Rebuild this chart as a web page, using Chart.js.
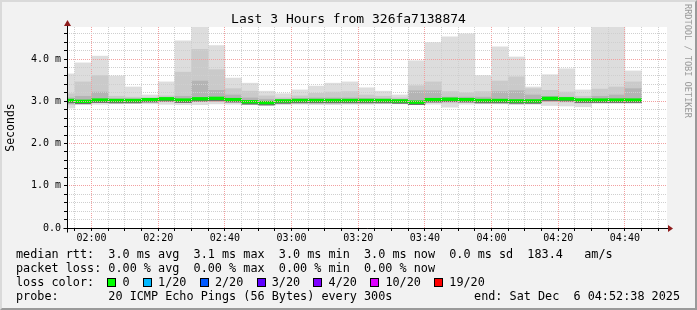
<!DOCTYPE html>
<html>
<head>
<meta charset="utf-8">
<script src="https://cdn.jsdelivr.net/npm/chart.js@4/dist/chart.umd.min.js"></script>
<style>
  html, body { margin: 0; padding: 0; background: #f2f2f2; }
  #graph { position: relative; width: 697px; height: 310px; background: #f2f2f2; overflow: hidden;
    font-family: "DejaVu Sans Mono", monospace; color: #000; }
  #graph canvas { position: absolute; left: 0; top: 0; }
  .frame { position: absolute; left: 0; top: 0; width: 697px; height: 310px; box-sizing: border-box;
    border-top: 2px solid #dadada; border-left: 2px solid #dadada;
    border-bottom: 2px solid #9a9a9a; border-right: 2px solid #9a9a9a; pointer-events: none; }
  .title { position: absolute; top: 11px; left: 0; width: 697px; text-align: center; font-size: 13px; line-height: 16px; }
  .mark { position: absolute; left: 683px; top: 4px; writing-mode: vertical-rl; font-size: 8.6px; line-height: 9px; color: #9a9a9a; }
  .row { position: absolute; left: 16px; font-size: 11.8px; line-height: 14px; white-space: pre; }
  .end { left: auto; right: 17px; }
  .sw { display: inline-block; width: 2ch; }
  .sw i { display: inline-block; width: 7px; height: 7px; border: 1px solid #000; vertical-align: -1px; margin-left: -1px; }
</style>
</head>
<body>
<div id="graph">
  <canvas id="smoke" width="697" height="310"></canvas>
  <div class="title">Last 3 Hours from 326fa7138874</div>
  <div class="mark">RRDTOOL / TOBI OETIKER</div>
  <div class="row" style="top:247px">median rtt:  3.0 ms avg  3.1 ms max  3.0 ms min  3.0 ms now  0.0 ms sd  183.4   am/s</div>
  <div class="row" style="top:261px">packet loss: 0.00 % avg  0.00 % max  0.00 % min  0.00 % now</div>
  <div class="row" id="lossRow" style="top:275px"></div>
  <div class="row" style="top:289px">probe:       20 ICMP Echo Pings (56 Bytes) every 300s</div>
  <div class="row end" style="top:289px">end: Sat Dec  6 04:52:38 2025</div>
  <div class="frame"></div>
</div>
<script>
// time window shown on the graph
const viewStart = '01:52:38'
const viewEnd = '04:52:38'

// 5 minute bins (start time of each bin)
const binStart = ['01:50', '01:55', '02:00', '02:05', '02:10', '02:15', '02:20', '02:25', '02:30', '02:35',
  '02:40', '02:45', '02:50', '02:55', '03:00', '03:05', '03:10', '03:15', '03:20', '03:25',
  '03:30', '03:35', '03:40', '03:45', '03:50', '03:55', '04:00', '04:05', '04:10', '04:15',
  '04:20', '04:25', '04:30', '04:35', '04:40']

// ping distribution per bin, in ms
const maxPing = [3.65, 3.91, 4.07, 3.60, 3.34, 3.15, 3.46, 4.43, 4.80, 4.32, 3.55, 3.43, 3.24, 3.18, 3.27, 3.36, 3.43, 3.46, 3.32, 3.24,
  3.15, 3.96, 4.39, 4.53, 4.60, 3.61, 4.29, 4.05, 3.34, 3.63, 3.77, 3.27, 4.80, 4.80, 3.72]
const p90 = [3.18, 3.46, 3.61, 3.12, 3.10, 3.08, 3.13, 3.69, 4.23, 3.75, 3.30, 3.24, 3.13, 3.08, 3.13, 3.19, 3.22, 3.23, 3.15, 3.12,
  3.08, 3.37, 3.46, 3.23, 3.20, 3.23, 3.48, 3.58, 3.30, 3.26, 3.22, 3.12, 3.29, 3.34, 3.46]
const p75 = [3.08, 3.12, 3.22, 3.06, 3.06, 3.07, 3.09, 3.12, 3.48, 3.26, 3.15, 3.08, 3.05, 3.05, 3.07, 3.08, 3.08, 3.08, 3.07, 3.06,
  3.05, 3.25, 3.25, 3.10, 3.10, 3.10, 3.23, 3.25, 3.15, 3.12, 3.10, 3.07, 3.12, 3.15, 3.30]
const median = [3.02, 3.00, 3.03, 3.02, 3.02, 3.04, 3.06, 3.03, 3.06, 3.07, 3.04, 2.99, 2.97, 3.01, 3.02, 3.02, 3.02, 3.02, 3.02, 3.02,
  3.01, 2.98, 3.04, 3.05, 3.04, 3.02, 3.02, 3.01, 3.01, 3.07, 3.06, 3.03, 3.03, 3.03, 3.03]
const p25 = [2.98, 2.98, 3.00, 2.99, 3.00, 3.01, 3.03, 3.00, 3.03, 3.04, 3.01, 2.97, 2.95, 2.99, 3.00, 3.00, 3.00, 3.00, 3.00, 3.00,
  2.99, 2.96, 3.01, 3.02, 3.01, 3.00, 3.00, 2.99, 2.99, 3.04, 3.03, 3.00, 3.01, 3.01, 3.01]
const p10 = [2.92, 2.96, 2.97, 2.97, 2.97, 2.98, 2.99, 2.97, 2.99, 3.00, 2.98, 2.95, 2.94, 2.96, 2.97, 2.97, 2.97, 2.97, 2.97, 2.97,
  2.96, 2.94, 2.98, 2.96, 2.98, 2.97, 2.97, 2.96, 2.96, 3.00, 2.98, 2.95, 2.98, 2.98, 2.98]
const minPing = [2.84, 2.93, 2.93, 2.94, 2.95, 2.94, 2.93, 2.92, 2.92, 2.94, 2.93, 2.92, 2.91, 2.92, 2.93, 2.92, 2.92, 2.93, 2.93, 2.94,
  2.94, 2.92, 2.93, 2.86, 2.93, 2.94, 2.94, 2.92, 2.93, 2.90, 2.89, 2.87, 2.95, 2.95, 2.95]

// y axis range (ms) and tick spacing
const yMax = 4.76
const yMinorStep = 0.2
const xMinorStep = 5
const xMajorStep = 20

// loss colour legend
const lossLabels = ['0', '1/20', '2/20', '3/20', '4/20', '10/20', '19/20']
const lossColors = ['#00ff00', '#00b8ff', '#0059ff', '#5e00ff', '#7e00ff', '#dd00ff', '#ff0000']
const lossGaps = ['  ', '  ', '  ', '  ', '  ', '  ', '']

document.getElementById('lossRow').innerHTML = 'loss color:  ' + lossLabels.map((l, i) =>
  '<span class="sw"><i style="background:' + lossColors[i] + '"></i></span>' + l + lossGaps[i]).join('')

const toMin = (s) => {
  const p = s.split(':').map(Number)
  return p[0] * 60 + p[1] + (p[2] || 0) / 60
}
const hhmm = (v) => String(Math.floor(v / 60)).padStart(2, '0') + ':' + String(Math.round(v % 60)).padStart(2, '0')
const binWidth = 5

const band = (label, lo, hi, color) => ({
  label: label,
  data: binStart.map((t, i) => ({ x: toMin(t) + binWidth / 2, y: [lo[i], hi[i]] })),
  backgroundColor: color,
  borderWidth: 0,
  barPercentage: 1,
  categoryPercentage: 1,
  grouped: false
})

// median drawn as a thick line with a dark edge under it
const lineHalf = 0.032
const shadowDepth = 0.06
const medianLine = band('median', median.map(v => v - lineHalf), median.map(v => v + lineHalf), '#00f000')
const medianShadow = band('median shadow', median.map(v => v - shadowDepth), median, '#6e6e6e')

const plotBg = {
  id: 'plotBg',
  beforeDraw(chart) {
    const a = chart.chartArea
    chart.ctx.save()
    chart.ctx.fillStyle = '#ffffff'
    chart.ctx.fillRect(a.left, a.top, a.right - a.left, a.bottom - a.top)
    chart.ctx.restore()
  }
}

const arrows = {
  id: 'arrows',
  afterDraw(chart) {
    const { ctx, chartArea: a } = chart
    const x0 = Math.round(a.left) + 0.5
    const y0 = Math.round(a.bottom) + 0.5
    ctx.save()
    ctx.strokeStyle = '#000'
    ctx.lineWidth = 1
    ctx.beginPath()
    ctx.moveTo(x0, y0 + 4)
    ctx.lineTo(x0, a.top - 4)
    ctx.moveTo(x0 - 4, y0)
    ctx.lineTo(a.right + 4, y0)
    ctx.stroke()
    ctx.fillStyle = '#8e1c1c'
    ctx.beginPath()
    ctx.moveTo(x0, a.top - 7)
    ctx.lineTo(x0 - 3.5, a.top - 1)
    ctx.lineTo(x0 + 3.5, a.top - 1)
    ctx.closePath()
    ctx.fill()
    ctx.beginPath()
    ctx.moveTo(a.right + 6, y0)
    ctx.lineTo(a.right + 1, y0 - 3.5)
    ctx.lineTo(a.right + 1, y0 + 3.5)
    ctx.closePath()
    ctx.fill()
    ctx.restore()
  }
}

const isMajorY = (v) => Math.abs(v - Math.round(v)) < 1e-6
const tickFont = { family: 'DejaVu Sans Mono', size: 10 }

new Chart(document.getElementById('smoke'), {
  type: 'bar',
  data: {
    datasets: [
      medianLine,
      medianShadow,
      band('smoke 25-75', p25, p75, '#b4b4b4'),
      band('smoke 10-90', p10, p90, '#cacaca'),
      band('smoke min-max', minPing, maxPing, '#dddddd')
    ]
  },
  options: {
    responsive: false,
    animation: false,
    layout: { padding: { left: 0, top: 27, right: 30, bottom: 62 } },
    plugins: {
      legend: { display: false },
      tooltip: { enabled: false }
    },
    scales: {
      x: {
        type: 'linear',
        offset: false,
        min: toMin(viewStart),
        max: toMin(viewEnd),
        afterFit: (s) => { s.height = 20 },
        afterBuildTicks: (s) => {
          const ticks = []
          for (let v = Math.ceil(s.min / xMinorStep) * xMinorStep; v < s.max; v += xMinorStep) ticks.push({ value: v })
          s.ticks = ticks
        },
        ticks: {
          autoSkip: false,
          maxRotation: 0,
          padding: 1,
          color: '#000',
          font: tickFont,
          callback: (v) => (v % xMajorStep === 0 ? hhmm(v) : '')
        },
        grid: {
          z: 1,
          offset: false,
          tickLength: 3,
          tickColor: '#000',
          color: (c) => (c.tick && c.tick.value % xMajorStep === 0 ? '#f2a0a0' : '#cfcfcf')
        },
        border: { display: false, dash: [1, 1] }
      },
      y: {
        min: 0,
        max: yMax,
        afterFit: (s) => { s.width = 67 },
        afterBuildTicks: (s) => {
          const ticks = []
          for (let i = 0; i * yMinorStep < s.max; i++) ticks.push({ value: Math.round(i * yMinorStep * 10) / 10 })
          s.ticks = ticks
        },
        ticks: {
          autoSkip: false,
          padding: 3,
          color: '#000',
          font: tickFont,
          callback: (v) => (isMajorY(v) ? (v === 0 ? '0.0' : v.toFixed(1) + ' m') : '')
        },
        grid: {
          z: 1,
          tickLength: 3,
          tickColor: '#000',
          color: (c) => (c.tick && isMajorY(c.tick.value) ? '#f2a0a0' : '#cfcfcf')
        },
        border: { display: false, dash: [1, 1] },
        title: {
          display: true,
          text: 'Seconds',
          color: '#000',
          font: { family: 'DejaVu Sans Mono', size: 11.5 }
        }
      }
    }
  },
  plugins: [plotBg, arrows]
})
</script>
</body>
</html>
